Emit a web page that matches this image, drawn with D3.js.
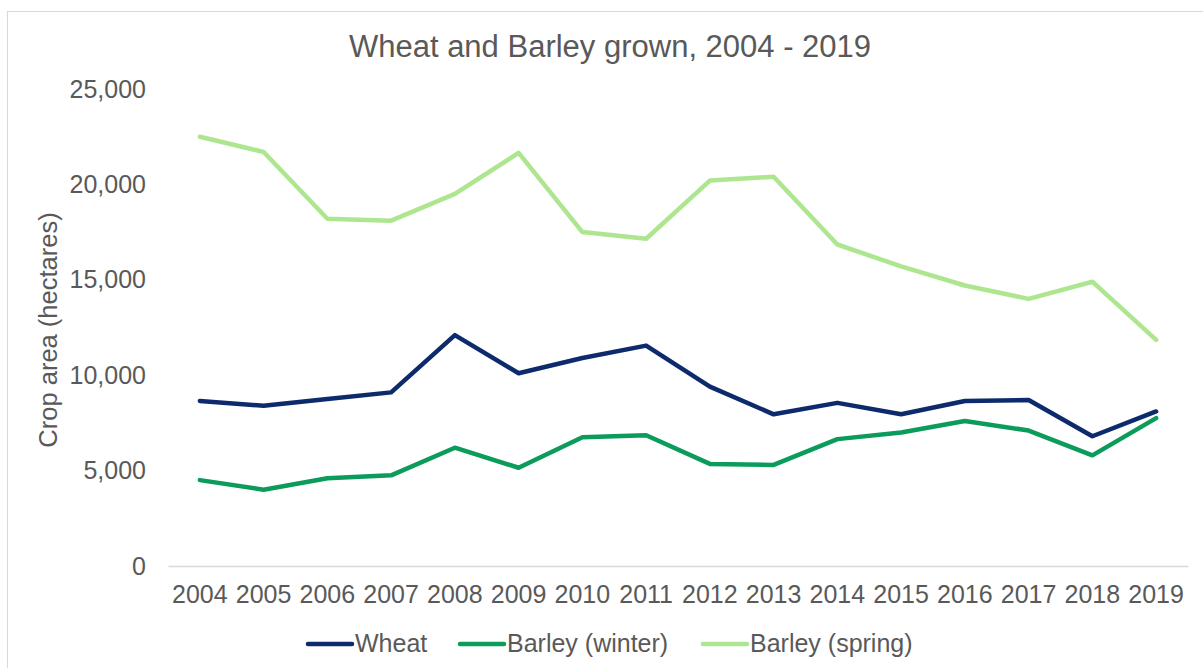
<!DOCTYPE html>
<meta charset="utf-8">
<title>Wheat and Barley grown, 2004 - 2019</title>
<style>
  body { margin: 0; background: #fff; }
  text { font-family: "Liberation Sans", Arial, sans-serif; fill: #595959; }
</style>
<body>
<script src="https://cdn.jsdelivr.net/npm/d3@7"></script>
<script>
    // data
    var years = ["2004", "2005", "2006", "2007", "2008", "2009", "2010", "2011",
                 "2012", "2013", "2014", "2015", "2016", "2017", "2018", "2019"];
    var wheat = [8650, 8400, 8750, 9100, 12100, 10100, 10900, 11550,
                 9400, 7950, 8550, 7950, 8650, 8700, 6800, 8100];
    var barleyWinter = [4500, 4000, 4600, 4750, 6200, 5150, 6750, 6850,
                        5350, 5300, 6650, 7000, 7600, 7100, 5800, 7750];
    var barleySpring = [22500, 21700, 18200, 18100, 19500, 21650, 17500, 17150,
                        20200, 20400, 16850, 15700, 14700, 14000, 14900, 11850];
    var yTicks = [0, 5000, 10000, 15000, 20000, 25000];

    var series = [
        {name: "Wheat", values: wheat, color: "#0d2a6c"},
        {name: "Barley (winter)", values: barleyWinter, color: "#0b9b5b"},
        {name: "Barley (spring)", values: barleySpring, color: "#ade68f"}
    ];

    var width = 1203,
        height = 668;

    var svg = d3.select("body").append("svg")
        .attr("width", width)
        .attr("height", height);

    // chart border (runs off the right and bottom like the original)
    svg.append("rect")
        .attr("x", 7.5)
        .attr("y", 11.5)
        .attr("width", 1300)
        .attr("height", 800)
        .attr("fill", "none")
        .attr("stroke", "#d9d9d9");

    var x = d3.scaleBand()
        .domain(years)
        .range([168, 1188])
        .padding(0);

    var y = d3.scaleLinear()
        .domain([0, 25000])
        .range([566, 89]);

    // y axis
    var yAxis = svg.append("g")
        .attr("transform", "translate(168,0)")
        .call(d3.axisLeft(y).tickValues(yTicks).tickFormat(d3.format(",")).tickSize(0).tickPadding(22));
    yAxis.select(".domain").remove();
    yAxis.selectAll("text")
        .style("font-size", "25px")
        .style("font-family", "'Liberation Sans', Arial, sans-serif")
        .attr("fill", "#595959");

    // x axis
    var xAxis = svg.append("g")
        .attr("transform", "translate(0,566)")
        .call(d3.axisBottom(x).tickSize(0).tickPadding(19));
    xAxis.select(".domain")
        .attr("stroke", "#d9d9d9")
        .attr("stroke-width", 1.5);
    xAxis.selectAll("text")
        .style("font-size", "25px")
        .style("font-family", "'Liberation Sans', Arial, sans-serif")
        .attr("fill", "#595959");

    var line = d3.line()
        .x(function(d, i) { return x(years[i]) + x.bandwidth() / 2; })
        .y(function(d) { return y(d); });

    // draw spring first so the darker lines sit on top
    svg.selectAll("path.series")
        .data(series.slice().reverse())
        .join("path")
        .attr("class", "series")
        .attr("d", function(d) { return line(d.values); })
        .attr("fill", "none")
        .attr("stroke", function(d) { return d.color; })
        .attr("stroke-width", 4.5)
        .attr("stroke-linejoin", "round")
        .attr("stroke-linecap", "round");

    // title
    svg.append("text")
        .attr("x", 610)
        .attr("y", 57)
        .attr("text-anchor", "middle")
        .style("font-size", "31px")
        .text("Wheat and Barley grown, 2004 - 2019");

    // y label
    svg.append("text")
        .attr("transform", "translate(57,330) rotate(-90)")
        .attr("text-anchor", "middle")
        .style("font-size", "25.5px")
        .text("Crop area (hectares)");

    // legend
    var legendX = [308, 460, 703];
    var legend = svg.selectAll("g.legend")
        .data(series)
        .join("g")
        .attr("class", "legend")
        .attr("transform", function(d, i) { return "translate(" + legendX[i] + ",644)"; });
    legend.append("line")
        .attr("x1", 0)
        .attr("x2", 44)
        .attr("stroke", function(d) { return d.color; })
        .attr("stroke-width", 4.5)
        .attr("stroke-linecap", "round");
    legend.append("text")
        .attr("x", 47)
        .attr("y", 8)
        .style("font-size", "25px")
        .text(function(d) { return d.name; });
</script>
</body>
